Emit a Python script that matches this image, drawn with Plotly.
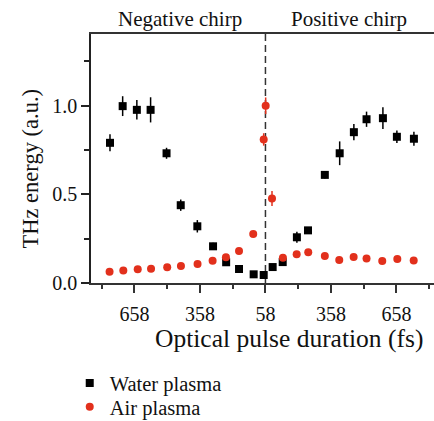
import plotly.graph_objects as go

# Signed chirp position (fs from the transform-limited 58 fs pulse; negative = negative chirp)
water_x = [-712, -654, -589, -526, -453, -388, -312, -240, -180, -121, -54, -8,
           33, 79, 144, 195, 272, 340, 405, 463, 538, 602, 680]
water_y = [0.791, 0.998, 0.977, 0.977, 0.732, 0.439, 0.320, 0.207, 0.117, 0.079, 0.049, 0.045,
           0.090, 0.118, 0.258, 0.297, 0.610, 0.732, 0.851, 0.924, 0.930, 0.825, 0.814]
water_err = [0.048, 0.056, 0.055, 0.071, 0.031, 0.032, 0.035, 0.02, 0.015, 0.015, 0.015, 0.015,
             0.015, 0.015, 0.031, 0.015, 0.02, 0.067, 0.046, 0.043, 0.061, 0.035, 0.04]

air_x = [-714, -651, -585, -524, -450, -387, -311, -242, -181, -121, -56, -8, 1, 30,
         80, 143, 196, 272, 338, 404, 463, 535, 604, 679]
air_y = [0.064, 0.070, 0.077, 0.081, 0.089, 0.096, 0.107, 0.126, 0.145, 0.181, 0.277, 0.810, 1.0, 0.477,
         0.143, 0.162, 0.173, 0.153, 0.130, 0.147, 0.138, 0.124, 0.136, 0.127]
air_err = [0, 0, 0, 0, 0, 0, 0, 0, 0, 0, 0, 0.035, 0.047, 0.042,
           0, 0, 0, 0, 0, 0, 0, 0, 0, 0]

x_tickvals = [-600, -300, 0, 300, 600]
x_ticktext = ["658", "358", "58", "358", "658"]
y_tickvals = [0.0, 0.5, 1.0]
y_ticktext = ["0.0", "0.5", "1.0"]

FONT = "Liberation Serif"
RED = "#E2301C"
INK = "#111111"

fig = go.Figure()
fig.add_trace(go.Scatter(
    x=water_x, y=water_y, mode="markers", name="Water plasma", legend="legend",
    marker=dict(symbol="square", size=8, color="black"),
    error_y=dict(type="data", array=water_err, visible=True, color="black", thickness=1.5, width=0),
))
fig.add_trace(go.Scatter(
    x=air_x, y=air_y, mode="markers", name="Air plasma", legend="legend2",
    marker=dict(symbol="circle", size=8, color=RED),
    error_y=dict(type="data", array=air_err, visible=True, color=RED, thickness=1.5, width=0),
))

# chirp sign boundary
fig.add_shape(type="line", xref="x", yref="y domain", x0=0, x1=0, y0=0, y1=1,
              line=dict(color="#333333", width=1.5, dash="7px,4px"), layer="below")

# region labels above the frame
for label, px in [("Negative chirp", 180), ("Positive chirp", 349)]:
    fig.add_annotation(text=label, xref="paper", yref="paper", x=(px - 91) / 343, y=1.0,
                       xanchor="center", yanchor="middle", yshift=15, showarrow=False,
                       font=dict(family=FONT, size=21, color=INK))

# axis titles
fig.add_annotation(text="Optical pulse duration (fs)", xref="paper", yref="paper",
                   x=(289 - 91) / 343, y=0, xanchor="center", yanchor="middle", yshift=-55,
                   showarrow=False, font=dict(family=FONT, size=25.5, color=INK))
fig.add_annotation(text="THz energy (a.u.)", xref="paper", yref="paper",
                   x=0, y=0.5, xanchor="center", yanchor="middle", xshift=-61, yshift=-10,
                   textangle=-90, showarrow=False, font=dict(family=FONT, size=22.5, color=INK))

legend_style = dict(xanchor="left", yanchor="middle",
                    font=dict(family=FONT, size=20.5, color=INK),
                    bgcolor="rgba(0,0,0,0)", borderwidth=0)

fig.update_layout(
    width=434, height=421,
    margin=dict(l=91, r=0, t=34, b=138, autoexpand=False),
    paper_bgcolor="white", plot_bgcolor="white",
    font=dict(family=FONT, size=20, color=INK),
    showlegend=True,
    legend=dict(x=-0.062, y=-0.402, **legend_style),
    legend2=dict(x=-0.062, y=-0.498, **legend_style),
    xaxis=dict(
        range=[-799, 772], showgrid=False, zeroline=False,
        showline=True, linecolor="#333", linewidth=1.5, mirror=True,
        ticks="outside", ticklen=8, tickwidth=1.5, tickcolor="#333",
        tickmode="array", tickvals=x_tickvals, ticktext=x_ticktext,
        ticklabelstandoff=4,
        tickfont=dict(family=FONT, size=20, color=INK),
        minor=dict(tickmode="array", tickvals=[-750, -450, -150, 150, 450, 750],
                   ticks="outside", ticklen=4, tickwidth=1.5, tickcolor="#333"),
    ),
    yaxis=dict(
        range=[0, 1.405], showgrid=False, zeroline=False,
        showline=True, linecolor="#222", linewidth=1.5, mirror=False,
        ticks="outside", ticklen=8, tickwidth=1.5, tickcolor="#222",
        tickmode="array", tickvals=y_tickvals, ticktext=y_ticktext,
        tickfont=dict(family=FONT, size=20, color=INK),
        minor=dict(tickmode="array", tickvals=[0.25, 0.75, 1.25],
                   ticks="outside", ticklen=5, tickwidth=1.5, tickcolor="#222"),
    ),
)

fig.write_html("out.html")
